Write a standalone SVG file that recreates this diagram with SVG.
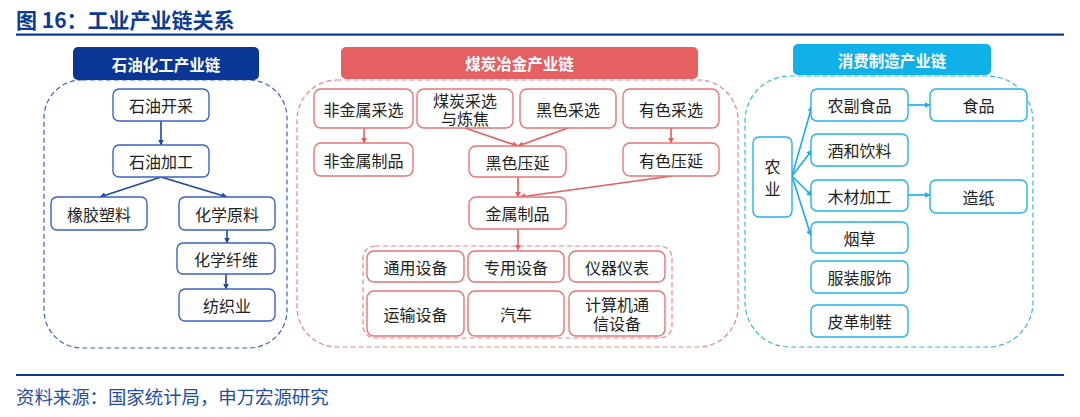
<svg xmlns="http://www.w3.org/2000/svg" width="1080" height="417" viewBox="0 0 1080 417">
<defs>
<style>
text{font-family:"Noto Sans CJK SC","Noto Sans",sans-serif;}
.t{font-size:16px;fill:#222;text-anchor:middle;dominant-baseline:central;}
.h{font-size:15.5px;font-weight:bold;fill:#fff;text-anchor:middle;dominant-baseline:central;}
.nb{fill:#fff;stroke:#3b62c2;stroke-width:1.4;}
.nr{fill:#fff;stroke:#e87474;stroke-width:1.4;}
.nc{fill:#fff;stroke:#22b2ea;stroke-width:1.4;}
.cb{stroke:#1f47a6;stroke-width:1.6;fill:none;}
.cr{stroke:#e45e5e;stroke-width:1.6;fill:none;}
.cc{stroke:#14aee8;stroke-width:1.6;fill:none;}
</style>
<marker id="ab" viewBox="0 0 10 10" refX="9" refY="5" markerWidth="6" markerHeight="6" orient="auto" markerUnits="userSpaceOnUse"><path d="M0,0L10,5L0,10z" fill="#1f47a6"/></marker>
<marker id="ar" viewBox="0 0 10 10" refX="9" refY="5" markerWidth="6" markerHeight="6" orient="auto" markerUnits="userSpaceOnUse"><path d="M0,0L10,5L0,10z" fill="#e45e5e"/></marker>
<marker id="ac" viewBox="0 0 10 10" refX="9" refY="5" markerWidth="6" markerHeight="6" orient="auto" markerUnits="userSpaceOnUse"><path d="M0,0L10,5L0,10z" fill="#14aee8"/></marker>
</defs>
<rect width="1080" height="417" fill="#fff"/>

<g id="title">
<text x="16" y="28" style="font-size:21px;font-weight:bold;fill:#0b3b94;">图 16：工业产业链关系</text>
<rect x="16" y="33.5" width="1048" height="2.2" fill="#0b3b94"/>
</g>

<g id="containers">
<rect x="44" y="80" width="243" height="268" rx="38" fill="none" stroke="#3b62c2" stroke-width="1.2" stroke-dasharray="5,3"/>
<rect x="297" y="80" width="441" height="267" rx="40" fill="none" stroke="#ec8585" stroke-width="1.2" stroke-dasharray="5,3"/>
<rect x="745" y="76" width="288" height="271" rx="45" fill="none" stroke="#34b8ec" stroke-width="1.2" stroke-dasharray="5,3"/>
<rect x="363" y="246" width="309" height="92" rx="12" fill="none" stroke="#ec8585" stroke-width="1.2" stroke-dasharray="5,3"/>
</g>

<g id="header-petro"><rect x="73" y="47" width="186" height="33" rx="5" fill="#0a3795"/><text class="h" x="166" y="63.5">石油化工产业链</text></g>
<g id="header-coal"><rect x="341" y="47" width="357" height="32" rx="5" fill="#e46063"/><text class="h" x="519.5" y="63">煤炭冶金产业链</text></g>
<g id="header-consumer"><rect x="793" y="44" width="198" height="31" rx="5" fill="#10b0e9"/><text class="h" x="892" y="59.5">消费制造产业链</text></g>

<g id="connectors">
<line class="cb" x1="161" y1="121" x2="161" y2="145" marker-end="url(#ab)"/>
<line class="cb" x1="161" y1="177" x2="100" y2="197" marker-end="url(#ab)"/>
<line class="cb" x1="161" y1="177" x2="227" y2="197" marker-end="url(#ab)"/>
<line class="cb" x1="227" y1="230" x2="227" y2="243" marker-end="url(#ab)"/>
<line class="cb" x1="226" y1="274" x2="226" y2="289" marker-end="url(#ab)"/>

<line class="cr" x1="364" y1="128" x2="364" y2="143" marker-end="url(#ar)"/>
<line class="cr" x1="465" y1="128" x2="518" y2="146" marker-end="url(#ar)"/>
<line class="cr" x1="568" y1="128" x2="518" y2="146" marker-end="url(#ar)"/>
<line class="cr" x1="671" y1="128" x2="671" y2="143" marker-end="url(#ar)"/>
<line class="cr" x1="518" y1="177" x2="518" y2="197" marker-end="url(#ar)"/>
<line class="cr" x1="672" y1="176" x2="520" y2="197" marker-end="url(#ar)"/>
<line class="cr" x1="518" y1="229" x2="518" y2="250" marker-end="url(#ar)"/>

<line class="cc" x1="792" y1="176" x2="812" y2="106" marker-end="url(#ac)"/>
<line class="cc" x1="792" y1="176" x2="812" y2="150" marker-end="url(#ac)"/>
<line class="cc" x1="792" y1="176" x2="812" y2="196" marker-end="url(#ac)"/>
<line class="cc" x1="792" y1="176" x2="811" y2="236" marker-end="url(#ac)"/>
<line class="cc" x1="908" y1="105" x2="930" y2="105" marker-end="url(#ac)"/>
<line class="cc" x1="908" y1="195" x2="930" y2="195" marker-end="url(#ac)"/>
</g>

<g id="n-syck"><rect class="nb" x="113" y="89" width="96" height="32" rx="6"/><text class="t" x="161" y="105">石油开采</text></g>
<g id="n-syjg"><rect class="nb" x="113" y="145" width="96" height="32" rx="6"/><text class="t" x="161" y="161">石油加工</text></g>
<g id="n-xjsl"><rect class="nb" x="51" y="197" width="96" height="33" rx="6"/><text class="t" x="99" y="213.5">橡胶塑料</text></g>
<g id="n-hxyl"><rect class="nb" x="179" y="197" width="96" height="33" rx="6"/><text class="t" x="227" y="213.5">化学原料</text></g>
<g id="n-hxxw"><rect class="nb" x="177" y="243" width="98" height="31" rx="6"/><text class="t" x="226" y="258.5">化学纤维</text></g>
<g id="n-fzy"><rect class="nb" x="179" y="289" width="96" height="32" rx="6"/><text class="t" x="227" y="305">纺织业</text></g>

<g id="n-fjscx"><rect class="nr" x="314" y="89" width="99" height="39" rx="7"/><text class="t" x="363.5" y="108.5">非金属采选</text></g>
<g id="n-mtcx"><rect class="nr" x="417" y="89" width="96" height="39" rx="7"/><text class="t" x="465" y="99.5">煤炭采选<tspan x="465" dy="18.5">与炼焦</tspan></text></g>
<g id="n-hscx"><rect class="nr" x="520" y="89" width="96" height="39" rx="7"/><text class="t" x="568" y="108.5">黑色采选</text></g>
<g id="n-yscx"><rect class="nr" x="623" y="89" width="96" height="39" rx="7"/><text class="t" x="671" y="108.5">有色采选</text></g>
<g id="n-fjszp"><rect class="nr" x="314" y="143" width="99" height="33" rx="7"/><text class="t" x="363.5" y="159.5">非金属制品</text></g>
<g id="n-hsyy"><rect class="nr" x="469" y="146" width="97" height="31" rx="7"/><text class="t" x="517.5" y="161.5">黑色压延</text></g>
<g id="n-ysyy"><rect class="nr" x="623" y="143" width="96" height="33" rx="7"/><text class="t" x="671" y="159.5">有色压延</text></g>
<g id="n-jszp"><rect class="nr" x="469" y="197" width="97" height="32" rx="7"/><text class="t" x="517.5" y="213">金属制品</text></g>
<g id="n-tysb"><rect class="nr" x="367" y="251" width="97" height="31" rx="7"/><text class="t" x="415.5" y="266.5">通用设备</text></g>
<g id="n-zysb"><rect class="nr" x="468" y="251" width="96" height="31" rx="7"/><text class="t" x="516" y="266.5">专用设备</text></g>
<g id="n-yqyb"><rect class="nr" x="569" y="251" width="96" height="31" rx="7"/><text class="t" x="617" y="266.5">仪器仪表</text></g>
<g id="n-yssb"><rect class="nr" x="367" y="291" width="97" height="45" rx="7"/><text class="t" x="415.5" y="313.5">运输设备</text></g>
<g id="n-qc"><rect class="nr" x="468" y="291" width="96" height="45" rx="7"/><text class="t" x="516" y="313.5">汽车</text></g>
<g id="n-jsj"><rect class="nr" x="569" y="291" width="96" height="45" rx="7"/><text class="t" x="617" y="304">计算机通<tspan x="617" dy="19">信设备</tspan></text></g>

<g id="n-ny"><rect class="nc" x="753" y="137" width="39" height="80" rx="6"/><text class="t" x="772.5" y="166">农<tspan x="772.5" dy="22">业</tspan></text></g>
<g id="n-nfsp"><rect class="nc" x="811" y="89" width="97" height="32" rx="6"/><text class="t" x="859.5" y="105">农副食品</text></g>
<g id="n-sp"><rect class="nc" x="930" y="89" width="97" height="32" rx="6"/><text class="t" x="978.5" y="105">食品</text></g>
<g id="n-jhyl"><rect class="nc" x="811" y="134" width="97" height="32" rx="6"/><text class="t" x="859.5" y="150">酒和饮料</text></g>
<g id="n-mcjg"><rect class="nc" x="811" y="180" width="97" height="31" rx="6"/><text class="t" x="859.5" y="195.5">木材加工</text></g>
<g id="n-zz"><rect class="nc" x="930" y="180" width="97" height="33" rx="6"/><text class="t" x="978.5" y="196.5">造纸</text></g>
<g id="n-yc"><rect class="nc" x="811" y="222" width="97" height="31" rx="6"/><text class="t" x="859.5" y="237.5">烟草</text></g>
<g id="n-fzfs"><rect class="nc" x="811" y="261" width="97" height="32" rx="6"/><text class="t" x="859.5" y="277">服装服饰</text></g>
<g id="n-pgzx"><rect class="nc" x="811" y="305" width="97" height="32" rx="6"/><text class="t" x="859.5" y="321">皮革制鞋</text></g>

<g id="footer">
<rect x="16" y="374" width="1048" height="2" fill="#0b3b94"/>
<text x="16" y="404" style="font-size:18.4px;fill:#1f4ea6;">资料来源：国家统计局，申万宏源研究</text>
</g>
</svg>
